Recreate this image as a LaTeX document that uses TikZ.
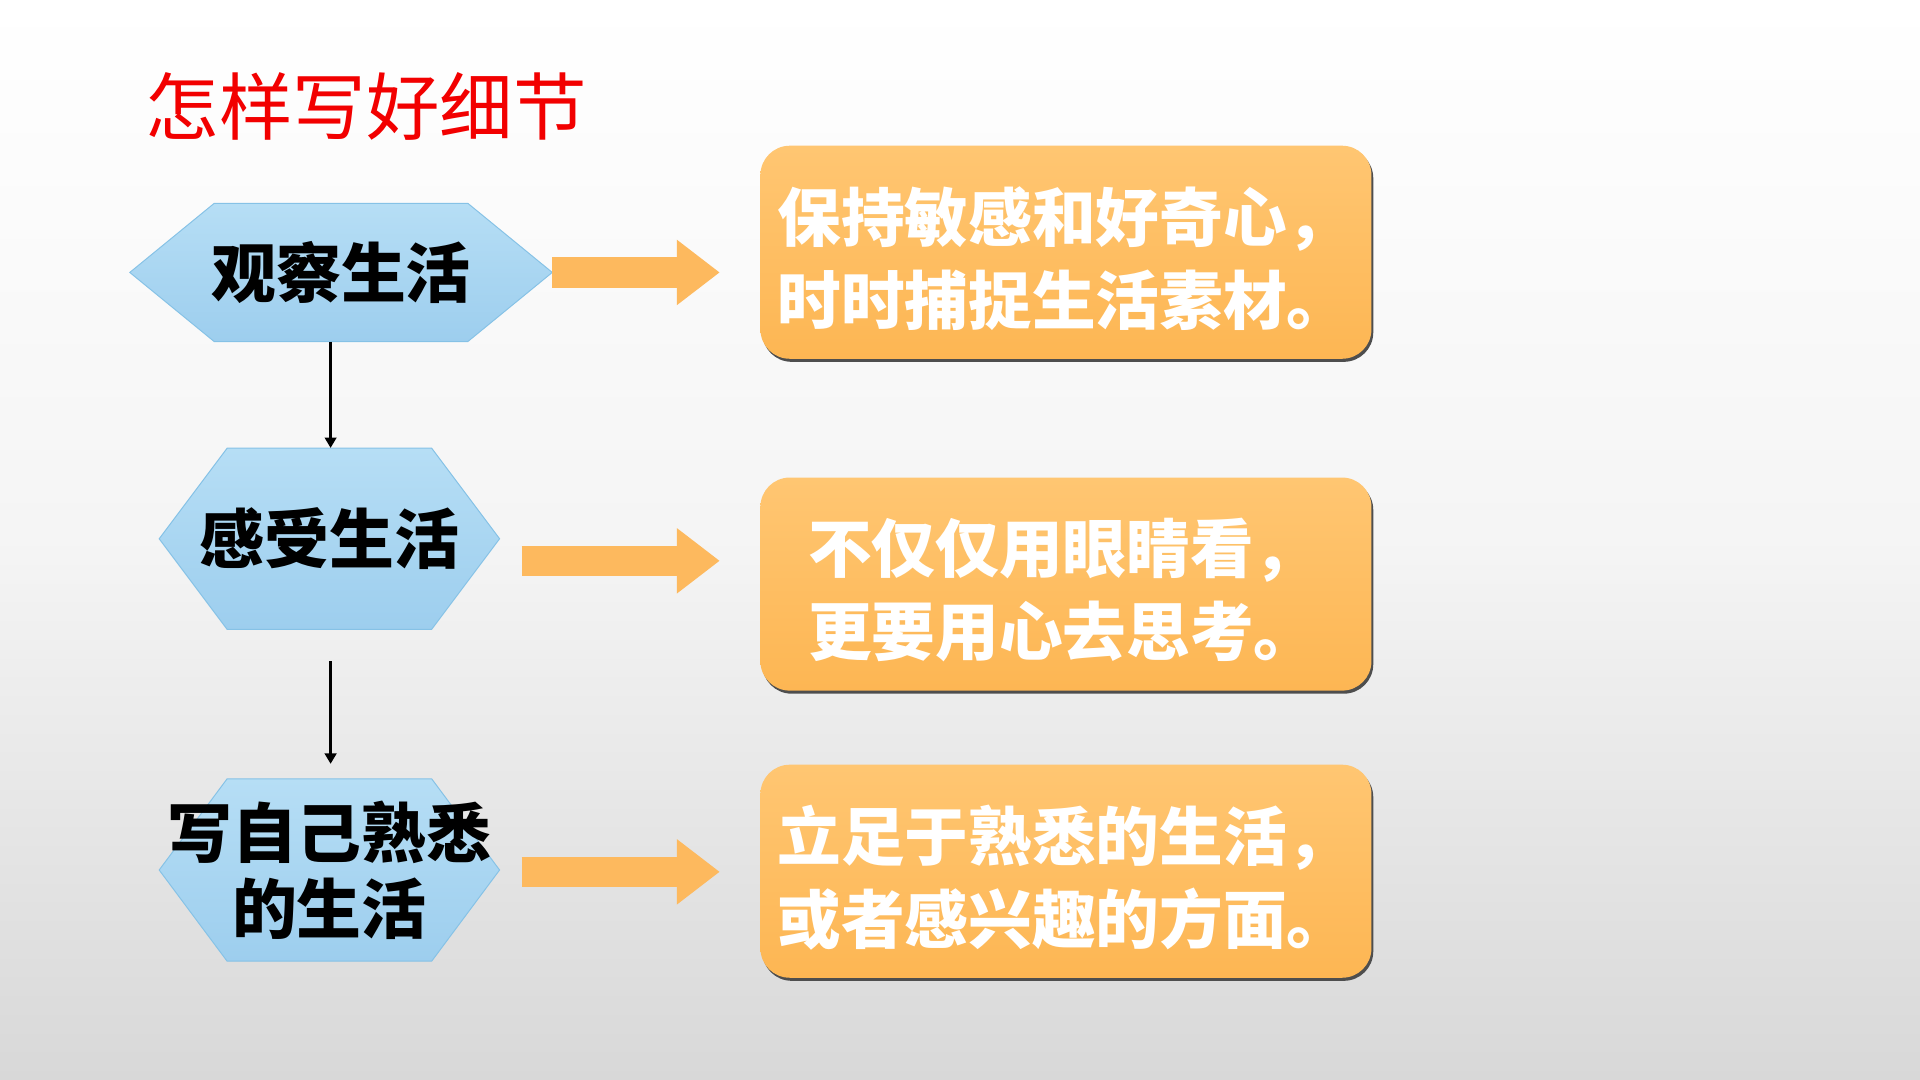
\documentclass[tikz,border=0pt]{standalone}
\usepackage{fontspec}
\newfontfamily\cjk{Noto Sans CJK SC}
\usetikzlibrary{arrows.meta,shadows}
\definecolor{hexTop}{HTML}{B6DEF5}
\definecolor{hexBot}{HTML}{9DCEEE}
\definecolor{hexLine}{HTML}{86C2E6}
\definecolor{boxTop}{HTML}{FFC672}
\definecolor{boxBot}{HTML}{FDB653}
\definecolor{arrowC}{HTML}{FDB95E}
\definecolor{shadowC}{HTML}{4E4E4E}
\definecolor{titleRed}{HTML}{F20000}
\definecolor{bgBot}{HTML}{D8D8D8}
\newcommand\hexshape[5]{%
  \path[hexfill] (#1-#3,#2) -- (#1-#3+#5,#2-#4) -- (#1+#3-#5,#2-#4) -- (#1+#3,#2)
    -- (#1+#3-#5,#2+#4) -- (#1-#3+#5,#2+#4) -- cycle;}
\begin{document}
\begin{tikzpicture}[x=1pt,y=-1pt,
  hexfill/.style={top color=hexTop,bottom color=hexBot,draw=hexLine,line width=0.8pt},
  hexlabel/.style={inner sep=0pt,align=center,text=black,
    font=\cjk\bfseries\fontsize{53}{62}\selectfont},
  infobox/.style={rounded corners=24pt,top color=boxTop,bottom color=boxBot,
    minimum width=499pt,minimum height=174pt,inner sep=0pt,
    drop shadow={shadow xshift=1.5pt,shadow yshift=-2.5pt,fill=shadowC,opacity=1}},
  infotext/.style={inner sep=0pt,align=left,text=white,
    font=\cjk\bfseries\fontsize{52}{68}\selectfont},
  blockarrow/.style={draw=arrowC,line width=25pt,-{Triangle[width=51pt,length=35pt]}},
  conn/.style={draw=black,line width=1.9pt,-{Triangle[width=9.5pt,length=8.5pt]}}
]
\useasboundingbox (0,0) rectangle (1568,882);
\shade[top color=white,bottom color=bgBot,middle color=gray!8] (0,0) rectangle (1568,882);

% title
\node[anchor=west,inner sep=0pt,text=titleRed,font=\cjk\fontsize{60}{60}\selectfont] (title) at (119,87) {怎样写好细节};

% hexagons
\hexshape{278.5}{222.5}{172.5}{56.5}{69}
\hexshape{269}{440}{139}{74}{55.5}
\hexshape{269}{710.5}{139}{74.5}{55.5}
\node[hexlabel,minimum width=345pt,minimum height=113pt] (h1) at (278.5,222.5) {观察生活};
\node[hexlabel,minimum width=278pt,minimum height=148pt] (h2) at (269,440) {感受生活};
\node[hexlabel,minimum width=278pt,minimum height=149pt] (h3) at (269,710.5) {写自己熟悉\\的生活};

% info boxes
\node[infobox] (b1) at (870.5,206) {};
\node[infobox] (b2) at (870.5,477) {};
\node[infobox] (b3) at (870.5,711.5) {};
\node[infotext] (t1) at (869,211) {保持敏感和好奇心，\\时时捕捉生活素材。};
\node[infotext] (t2) at (868,482) {不仅仅用眼睛看，\\更要用心去思考。};
\node[infotext] (t3) at (869,716.5) {立足于熟悉的生活，\\或者感兴趣的方面。};

% block arrows
\coordinate (a2s) at (426,458);
\coordinate (a3s) at (426,712);
\draw[blockarrow,shorten >=33pt] (h1.east) -- (h1.east -| b1.west);
\draw[blockarrow,shorten >=33pt] (a2s) -- (a2s -| b2.west);
\draw[blockarrow,shorten >=33pt] (a3s) -- (a3s -| b3.west);

% vertical connectors
\draw[conn] ([xshift=1pt]h2.north |- h1.south) -- ([xshift=1pt]h2.north);
\draw[conn,shorten <=26pt,shorten >=12pt] ([xshift=1pt]h2.south) -- ([xshift=1pt]h3.north);
\end{tikzpicture}
\end{document}
